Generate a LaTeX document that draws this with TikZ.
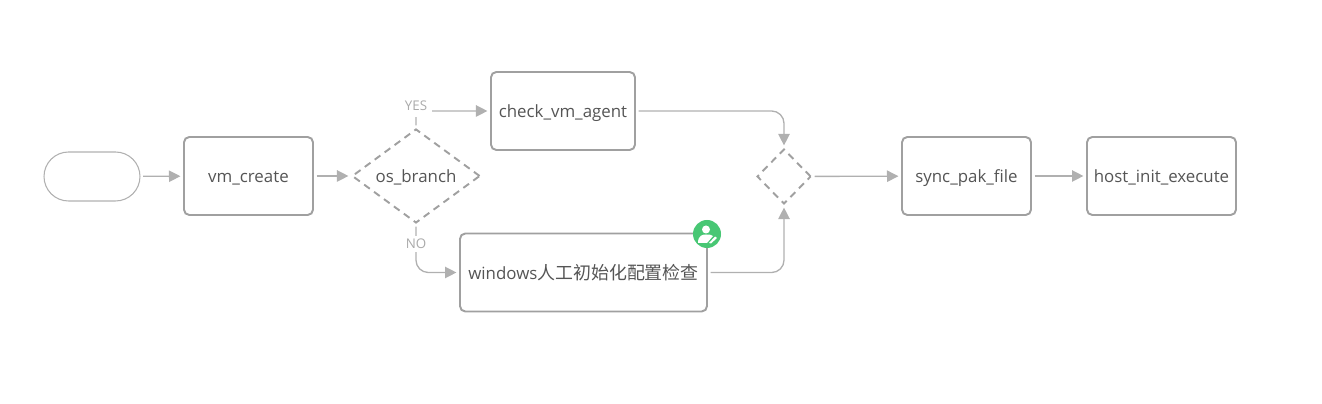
\documentclass[tikz,border=0pt]{standalone}
\usepackage{fontspec}
\setmainfont{Open Sans}
\newfontfamily\cjk{Noto Sans CJK SC}
\usetikzlibrary{shapes.geometric, shapes.misc, arrows.meta, positioning}
\definecolor{edgegray}{RGB}{176, 176, 176}
\definecolor{boxgray}{RGB}{160, 160, 160}
\definecolor{textgray}{RGB}{85, 85, 85}
\definecolor{labelgray}{RGB}{170, 170, 170}
\definecolor{badgegreen}{RGB}{72, 199, 116}
\tikzset{
  taskbox/.style={draw=boxgray, line width=1.1pt, rounded corners=3pt, fill=white, text=textgray,
    minimum height=1.56cm, inner sep=0pt, text height=7.5pt, text depth=0pt, font=\fontsize{9.6}{11}\selectfont},
  gatebox/.style={diamond, draw=boxgray, line width=1.1pt, dash pattern=on 4pt off 3pt, text=textgray,
    inner sep=0pt, text height=7.5pt, text depth=0pt, font=\fontsize{9.6}{11}\selectfont},
  startbox/.style={rounded rectangle, draw=edgegray, line width=0.6pt, minimum width=1.92cm, minimum height=0.98cm, inner sep=0pt},
  flowline/.style={-{Triangle[length=6.5pt, width=6.5pt]}, draw=edgegray, color=edgegray, line width=0.75pt, rounded corners=7pt, shorten >=1.5pt, shorten <=1.5pt},
  flowlabel/.style={fill=white, text=labelgray, inner sep=1.5pt, font=\fontsize{7.6}{9}\selectfont},
}
\begin{document}
\begin{tikzpicture}[x=0.02cm, y=-0.02cm]
  \useasboundingbox (0,0) rectangle (1322,404);

  % Main row
  \node[startbox] (start) at (92,176.5) {};
  \node[taskbox, minimum width=2.58cm] (vmcreate) at (248.5,176) {vm\_create};
  \node[gatebox, minimum width=2.56cm, minimum height=1.84cm] (osbranch) at (416,176) {os\_branch};
  \node[gatebox, minimum width=1.08cm, minimum height=1.1cm] (merge) at (784,176.5) {};
  \node[taskbox, minimum width=2.58cm] (syncpak) at (966.5,176) {sync\_pak\_file};
  \node[taskbox, minimum width=2.98cm] (hostinit) at (1161.5,176) {host\_init\_execute};

  % Two branches
  \node[taskbox, minimum width=2.88cm] (checkagent) at (563,111) {check\_vm\_agent};
  \node[taskbox, minimum width=4.94cm] (winconfig) at (583.5,272.5) {windows{\cjk\fontsize{10.2}{12}\selectfont 人工初始化配置检查}};

  % Operator badge
  \node[circle, fill=badgegreen, minimum size=0.56cm, inner sep=0pt] (badge) at (707,234) {};
  \fill[white] (706,229.5) circle (4);
  \fill[white] (698,243) .. controls (698,235) and (703,234.5) .. (706,234.5) .. controls (710,234.5) and (712,235) .. (713,236) -- (707,243) -- cycle;
  \fill[white] (709,243) -- (715,236.5) -- (717,238) -- (711,243.5) -- cycle;

  % Connectors
  \draw[flowline] (start) -- (vmcreate);
  \draw[flowline] (vmcreate) -- (osbranch);
  \draw[flowline, rounded corners=3pt] (osbranch.north) |- (checkagent.west);
  \draw[flowline] (osbranch.south) |- (winconfig.west);
  \draw[flowline] (checkagent.east) -| (merge.north);
  \draw[flowline] (winconfig.east) -| (merge.south);
  \draw[flowline] (merge) -- (syncpak);
  \draw[flowline] (syncpak) -- (hostinit);

  % Branch labels sit on top of the lines
  \node[flowlabel, inner xsep=3pt, minimum height=0.44cm] (yes) at (416,106) {YES};
  \node[flowlabel] (no) at (416,244) {NO};
\end{tikzpicture}
\end{document}
